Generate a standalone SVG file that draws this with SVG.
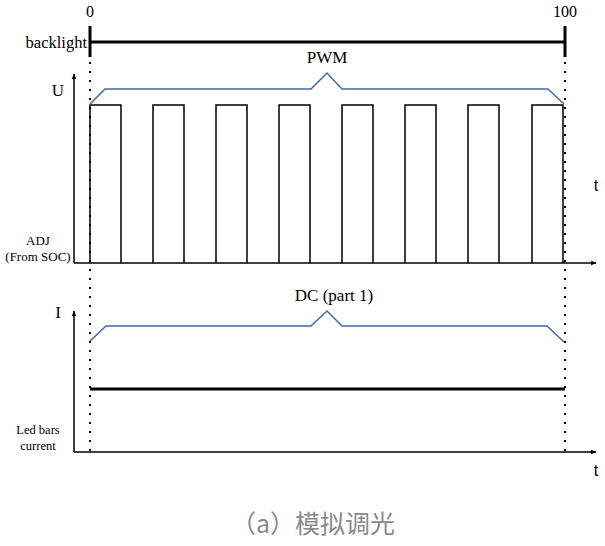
<svg xmlns="http://www.w3.org/2000/svg" width="605" height="546" viewBox="0 0 605 546">
<defs>
<marker id="ah" viewBox="0 0 10 10" refX="9" refY="5" markerWidth="6" markerHeight="6" orient="auto" markerUnits="userSpaceOnUse">
<path d="M0,1 L10,5 L0,9 Z" fill="#000"/>
</marker>
</defs>
<style>
.t{font-family:"Liberation Serif",serif;fill:#000}
.ax{stroke:#000;stroke-width:1.5;fill:none}
.thick{stroke:#000;stroke-width:3;fill:none}
.dot{stroke:#000;stroke-width:2;stroke-dasharray:2 7;fill:none}
.brace{stroke:#3e6aad;stroke-width:1.5;fill:none}
.pulse{stroke:#000;stroke-width:1.5;fill:none}
</style>
<rect width="605" height="546" fill="#fff"/>
<g id="labels">
<text class="t" x="90" y="17" font-size="16" text-anchor="middle">0</text>
<text class="t" x="565" y="17" font-size="16" text-anchor="middle">100</text>
<text class="t" x="87" y="48" font-size="16.5" text-anchor="end">backlight</text>
<text class="t" x="58" y="96" font-size="17" text-anchor="middle">U</text>
<text class="t" x="58" y="318" font-size="17" text-anchor="middle">I</text>
<text class="t" x="38" y="245" font-size="13" text-anchor="middle">ADJ</text>
<text class="t" x="38" y="261" font-size="13" text-anchor="middle">(From SOC)</text>
<text class="t" x="38" y="434" font-size="12.5" text-anchor="middle">Led bars</text>
<text class="t" x="38" y="450" font-size="12.5" text-anchor="middle">current</text>
<text class="t" x="327" y="63" font-size="17" text-anchor="middle">PWM</text>
<text class="t" x="334" y="301" font-size="17" text-anchor="middle">DC (part 1)</text>
<text x="596" y="191" font-family="Liberation Sans, sans-serif" font-size="16" fill="#000" text-anchor="middle">t</text>
<text x="596" y="476" font-family="Liberation Sans, sans-serif" font-size="16" fill="#000" text-anchor="middle">t</text>
<text x="313" y="533" font-family="Noto Sans CJK SC, sans-serif" font-size="25" fill="#8a8a8a" text-anchor="middle">（a）模拟调光</text>
</g>
<g id="connectors">
<line class="thick" x1="90" y1="42" x2="565" y2="42"/>
<line class="thick" x1="90" y1="26" x2="90" y2="57"/>
<line class="thick" x1="565" y1="26" x2="565" y2="57"/>
<line class="dot" x1="90" y1="62" x2="90" y2="458"/>
<line class="dot" x1="565" y1="62" x2="565" y2="458"/>
<line class="ax" x1="74" y1="263" x2="74" y2="74" marker-end="url(#ah)"/>
<line class="ax" x1="74" y1="263" x2="596" y2="263" marker-end="url(#ah)"/>
<line class="ax" x1="74" y1="452" x2="74" y2="311" marker-end="url(#ah)"/>
<line class="ax" x1="74" y1="452" x2="596" y2="452" marker-end="url(#ah)"/>
<path class="pulse" d="M90,263 V105 H121 V263 M153,263 V105 H184 V263 M216,263 V105 H247 V263 M279,263 V105 H310 V263 M342,263 V105 H373 V263 M405,263 V105 H436 V263 M468,263 V105 H499 V263 M532,263 V105 H563 V263"/>
<path class="brace" d="M90,104 L105,89 H311 L327,73 L342,89 H548 L564,104"/>
<path class="brace" d="M90,341 L106,326 H311 L327,311 L342,326 H547 L564,342"/>
<line class="thick" x1="90" y1="389" x2="565" y2="389"/>
</g>
</svg>
